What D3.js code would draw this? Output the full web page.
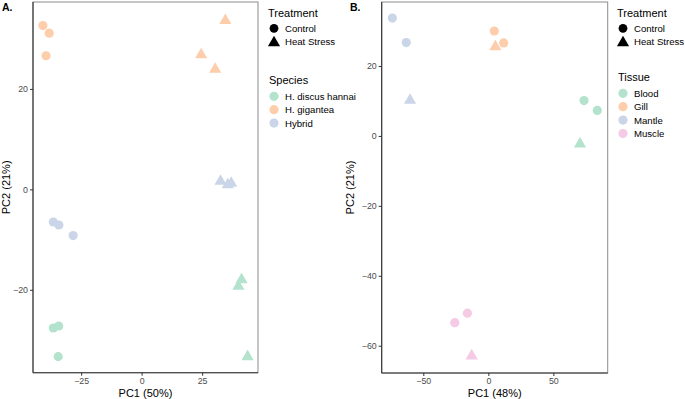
<!DOCTYPE html>
<html>
<head>
<meta charset="utf-8">
<script src="https://cdn.jsdelivr.net/npm/d3@7"></script>
<style>
  body { margin: 0; background: #fff; }
  text { font-family: "Liberation Sans", Arial, Helvetica, sans-serif; }
</style>
</head>
<body>
<div id="root"></div>
<script>
// panel A: species PCA
var speciesNames = ["H. discus hannai", "H. gigantea", "Hybrid"];
var aSpecies = ["H. gigantea", "H. gigantea", "H. gigantea", "H. gigantea", "H. gigantea", "H. gigantea",
                "Hybrid", "Hybrid", "Hybrid", "Hybrid", "Hybrid", "Hybrid",
                "H. discus hannai", "H. discus hannai", "H. discus hannai", "H. discus hannai", "H. discus hannai", "H. discus hannai"];
var aTreat = ["Control", "Control", "Control", "Heat Stress", "Heat Stress", "Heat Stress",
              "Control", "Control", "Control", "Heat Stress", "Heat Stress", "Heat Stress",
              "Control", "Control", "Control", "Heat Stress", "Heat Stress", "Heat Stress"];
var aPC1 = [-40.8, -38.2, -39.5, 34.6, 24.6, 30.4,
            -36.5, -34.2, -28.3, 32.6, 35.6, 37.0,
            -36.5, -34.3, -34.5, 41.3, 40.0, 43.8];
var aPC2 = [32.6, 31.1, 26.6, 33.6, 26.8, 23.9,
            -6.5, -7.1, -9.2, 1.6, 0.9, 1.2,
            -27.6, -27.2, -33.3, -18.0, -19.3, -33.3];

// panel B: tissue PCA
var tissueNames = ["Blood", "Gill", "Mantle", "Muscle"];
var bTissue = ["Mantle", "Mantle", "Mantle", "Gill", "Gill", "Gill",
               "Blood", "Blood", "Blood", "Muscle", "Muscle", "Muscle"];
var bTreat = ["Control", "Control", "Heat Stress", "Control", "Control", "Heat Stress",
              "Control", "Control", "Heat Stress", "Control", "Control", "Heat Stress"];
var bPC1 = [-73.8, -63.1, -60.2, 4.6, 11.8, 5.4, 73.6, 83.8, 70.5, -16.1, -25.8, -12.8];
var bPC2 = [33.7, 26.7, 10.2, 30.0, 26.6, 25.5, 10.1, 7.3, -2.3, -50.7, -53.4, -62.9];

var treatNames = ["Control", "Heat Stress"];
var pastel = ["#B3E2CD", "#FDCDAC", "#CBD5E8", "#F4CAE4"];

var width = 685, height = 399;
var svg = d3.select("#root").append("svg")
    .attr("width", width)
    .attr("height", height);

var shape = d3.scaleOrdinal().domain(treatNames).range([d3.symbolCircle, d3.symbolTriangle]);

function drawPanel(opt) {
    var x = d3.scaleLinear().domain(opt.xDomain).range([opt.left, opt.right]);
    var y = d3.scaleLinear().domain(opt.yDomain).range([opt.bottom, opt.top]);
    var color = d3.scaleOrdinal().domain(opt.groups).range(pastel);

    var g = svg.append("g");

    // border: grey frame, dark axis lines
    g.append("rect")
        .attr("x", opt.left).attr("y", opt.top)
        .attr("width", opt.right - opt.left).attr("height", opt.bottom - opt.top)
        .attr("fill", "none").attr("stroke", "#8c8c8c").attr("stroke-width", 1);

    var xAxis = g.append("g")
        .attr("transform", "translate(0," + opt.bottom + ")")
        .call(d3.axisBottom(x).tickValues(opt.xTicks).tickSize(3).tickPadding(2));
    var yAxis = g.append("g")
        .attr("transform", "translate(" + opt.left + ",0)")
        .call(d3.axisLeft(y).tickValues(opt.yTicks).tickSize(3).tickPadding(2));
    [xAxis, yAxis].forEach(function (a) {
        a.select(".domain").attr("stroke", "#333").attr("stroke-width", 1.1);
        a.selectAll(".tick line").attr("stroke", "#333");
        a.selectAll(".tick text").attr("fill", "#4d4d4d").style("font-size", "8.8px")
            .style("font-family", "'Liberation Sans', Arial, sans-serif");
    });
    // cut domain ends to the plot box
    xAxis.select(".domain").attr("d", "M" + opt.left + ",0H" + opt.right);
    yAxis.select(".domain").attr("d", "M0," + opt.bottom + "V" + opt.top);

    g.selectAll("path.pt")
        .data(opt.pc1.map(function (v, i) { return {x: v, y: opt.pc2[i], grp: opt.grp[i], tr: opt.tr[i]}; }))
        .enter().append("path")
        .attr("class", "pt")
        .attr("transform", function (d) { return "translate(" + x(d.x) + "," + y(d.y) + ")"; })
        .attr("d", function (d) { return d3.symbol().type(shape(d.tr)).size(d.tr === "Control" ? 66 : 64)(); })
        .attr("fill", function (d) { return color(d.grp); });

    // axis titles
    g.append("text")
        .attr("x", (opt.left + opt.right) / 2).attr("y", 397)
        .attr("text-anchor", "middle").style("font-size", "11px")
        .text(opt.xTitle);
    g.append("text")
        .attr("transform", "translate(" + opt.yTitleX + "," + (opt.top + opt.bottom) / 2 + ") rotate(-90)")
        .attr("text-anchor", "middle").style("font-size", "11px")
        .text(opt.yTitle);

    // panel tag
    g.append("text")
        .attr("x", opt.tagX).attr("y", 11)
        .style("font-size", "10.5px").style("font-weight", "bold")
        .text(opt.tag);

    // legends
    var lg = g.append("g");
    lg.append("text").attr("x", opt.legX).attr("y", 17).style("font-size", "11px").text("Treatment");
    treatNames.forEach(function (t, i) {
        var cy = 28.3 + i * 13.4;
        lg.append("path")
            .attr("transform", "translate(" + (opt.legX + 6) + "," + (cy + (i ? 1 : 0)) + ")")
            .attr("d", d3.symbol().type(shape(t)).size(i ? 64 : 60)())
            .attr("fill", "#000");
        lg.append("text").attr("x", opt.legX + 17).attr("y", cy + 3.4)
            .style("font-size", "9.6px").text(t);
    });
    lg.append("text").attr("x", opt.legX + 1).attr("y", opt.grpTitleY).style("font-size", "11px").text(opt.grpTitle);
    opt.groups.forEach(function (s, i) {
        var cy = opt.grpTitleY + 12.3 + i * 13.4;
        lg.append("circle").attr("cx", opt.legX + 6).attr("cy", cy).attr("r", 4.6).attr("fill", color(s));
        lg.append("text").attr("x", opt.legX + 17).attr("y", cy + 3.4)
            .style("font-size", "9.6px").text(s);
    });
}

drawPanel({
    left: 33, right: 258, top: 2, bottom: 372.7,
    xDomain: [-44.9, 48.1], yDomain: [-36.5, 37.3],
    xTicks: [-25, 0, 25], yTicks: [-20, 0, 20],
    pc1: aPC1, pc2: aPC2, grp: aSpecies, tr: aTreat, groups: speciesNames,
    xTitle: "PC1 (50%)", yTitle: "PC2 (21%)", yTitleX: 9.5,
    tag: "A.", tagX: 2,
    legX: 268, grpTitle: "Species", grpTitleY: 84
});

drawPanel({
    left: 381.7, right: 607.7, top: 2, bottom: 373,
    xDomain: [-82, 91.8], yDomain: [-67.8, 38.3],
    xTicks: [-50, 0, 50], yTicks: [-60, -40, -20, 0, 20],
    pc1: bPC1, pc2: bPC2, grp: bTissue, tr: bTreat, groups: tissueNames,
    xTitle: "PC1 (48%)", yTitle: "PC2 (21%)", yTitleX: 353.5,
    tag: "B.", tagX: 350,
    legX: 617, grpTitle: "Tissue", grpTitleY: 81
});
</script>
</body>
</html>
